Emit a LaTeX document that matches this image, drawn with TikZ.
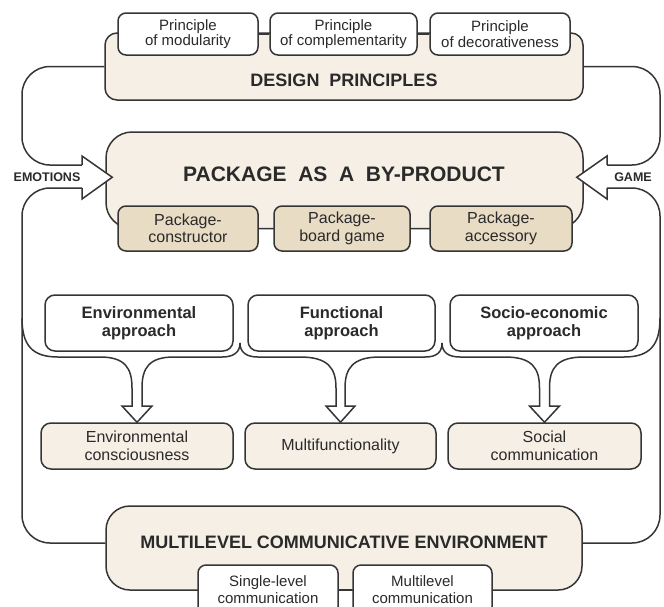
\documentclass[tikz,border=0pt]{standalone}
\usepackage{fontspec}
\setmainfont{Liberation Sans}
\usetikzlibrary{calc}

\definecolor{linea}{HTML}{353535}
\definecolor{crema}{HTML}{F6EFE6}
\definecolor{arena}{HTML}{E9DCC4}
\definecolor{texto}{HTML}{2A2A2A}

\tikzset{
    caja/.style={draw=linea, line width=1.5pt, rounded corners=8pt, align=center, inner sep=0pt, text=texto},
    chica/.style={caja, fill=white, minimum height=42pt, font=\fontsize{15}{15.5}\selectfont},
    paquete/.style={caja, fill=arena, minimum height=45pt, font=\fontsize{16}{17.5}\selectfont},
    enfoque/.style={caja, fill=white, rounded corners=10pt, minimum height=56pt, font=\bfseries\fontsize{16.5}{18}\selectfont},
    efecto/.style={caja, fill=crema, rounded corners=10pt, minimum height=46pt, font=\fontsize{16}{17.5}\selectfont},
    grande/.style={caja, fill=crema},
    titulo/.style={text=texto, font=\bfseries\fontsize{18}{20}\selectfont},
    etiqueta/.style={text=texto, font=\bfseries\fontsize{12.5}{13}\selectfont},
    union/.style={draw=linea, line width=1.5pt},
    lazo/.style={draw=linea, line width=1.5pt, rounded corners=28pt},
    flecha/.style={draw=linea, line width=1.5pt, fill=white, line join=miter},
    llave/.style={draw=linea, line width=1.5pt, line join=miter},
}

\begin{document}
\begin{tikzpicture}[x=1pt, y=-1pt]

    \useasboundingbox (0,0) rectangle (664,606);
    \clip (0,0) rectangle (664,606);
    \fill[white] (0,0) rectangle (664,606);

    % Cajas grandes
        \node[grande, minimum width=478pt, minimum height=67pt, rounded corners=12pt] (dp) at (344,66.5) {};
        \node[grande, minimum width=477pt, minimum height=96.5pt, rounded corners=26pt] (pbp) at (344.5,180.25) {};
        \node[grande, minimum width=476pt, minimum height=84pt, rounded corners=24pt] (mce) at (344,548) {};
        \coordinate (mceO) at ($(mce.west)+(0,-5)$);
        \coordinate (mceE) at ($(mce.east)+(0,-5)$);

    % Lazo izquierdo (EMOTIONS)
        \draw[lazo] (dp.west) -- (22,66.5) -- (22,165) -- (82,165);
        \draw[flecha] (82,165) -- (82,156) -- ($(pbp.west)+(7,-3)$) -- (82,199) -- (82,188);
        \draw[lazo] (82,188) -- (22,188) -- (22,543) -- (mceO);
        \node[etiqueta] (emo) at (47,177) {EMOTIONS};

    % Lazo derecho (GAME)
        \draw[lazo] (dp.east) -- (660,66.5) -- (660,165) -- (607,165);
        \draw[flecha] (607,165) -- (607,156) -- ($(pbp.east)+(-7,-3)$) -- (607,199) -- (607,188);
        \draw[lazo] (607,188) -- (660,188) -- (660,543) -- (mceE);
        \node[etiqueta] (game) at (633,177) {GAME};

    % Principios de diseno
        \node[titulo] (dpt) at (344,80) {DESIGN\ \ PRINCIPLES};
        \node[chica, minimum width=140pt] (p1) at (188,34) {Principle\\of modularity};
        \node[chica, minimum width=147pt] (p2) at (343.5,34) {Principle\\of complementarity};
        \node[chica, minimum width=140pt] (p3) at (500,34) {Principle\\of decorativeness};
        \draw[union] (p1) -- (p2) (p2) -- (p3);

    % Envase como subproducto
        \node[titulo, font=\bfseries\fontsize{21}{23}\selectfont] (pbpt) at (344,174) {PACKAGE\ \ AS\ \ A\ \ BY-PRODUCT};
        \node[paquete, minimum width=140pt] (k1) at (188,228.5) {Package-\\constructor};
        \node[paquete, minimum width=136pt] (k2) at (342,228.5) {Package-\\board game};
        \node[paquete, minimum width=142pt] (k3) at (501,228.5) {Package-\\accessory};
        \draw[union] (k1) -- (k2) (k2) -- (k3);

    % Enfoques
        \node[enfoque, minimum width=188pt] (e1) at (139,323) {Environmental\\approach};
        \node[enfoque, minimum width=187pt] (e2) at (341.5,323) {Functional\\approach};
        \node[enfoque, minimum width=188pt] (e3) at (544,323) {Socio-economic\\approach};

    % Resultados
        \node[efecto, minimum width=192pt] (oc1) at (137,446) {Environmental\\consciousness};
        \node[efecto, minimum width=191pt] (oc2) at (340.5,446) {Multifunctionality};
        \node[efecto, minimum width=193pt] (oc3) at (544.5,446) {Social\\communication};

    % Llaves
        \draw[llave] (22,318) .. controls (22,345) and (32,357) .. (58,357) -- (100,357)
            .. controls (125,357) and (132,368) .. (132,388) -- (132,406) -- (122,406) -- (oc1.north)
            -- (152,406) -- (142,406) -- (142,388) .. controls (142,368) and (149,357) .. (174,357)
            -- (222,357) .. controls (234,357) and (240,352) .. (240,343);
        \draw[llave] (240,343) .. controls (240,352) and (246,357) .. (258,357) -- (300,357)
            .. controls (328,357) and (336,368) .. (336,388) -- (336,406) -- (326,406) -- (oc2.north)
            -- (355,406) -- (345,406) -- (345,388) .. controls (345,368) and (353,357) .. (380,357)
            -- (425,357) .. controls (437,357) and (442,352) .. (442,343);
        \draw[llave] (442,343) .. controls (442,352) and (448,357) .. (460,357) -- (505,357)
            .. controls (532,357) and (539.5,368) .. (539.5,388) -- (539.5,406) -- (529.5,406) -- (oc3.north)
            -- (559.5,406) -- (549.5,406) -- (549.5,388) .. controls (549.5,368) and (557,357) .. (584,357)
            -- (624,357) .. controls (650,357) and (660,345) .. (660,318);

    % Entorno comunicativo
        \node[titulo] (mcet) at (344,542) {MULTILEVEL COMMUNICATIVE ENVIRONMENT};
        \node[chica, minimum width=140pt, minimum height=50pt, font=\fontsize{15}{17}\selectfont] (b1) at (268,590) {Single-level\\communication};
        \node[chica, minimum width=139pt, minimum height=50pt, font=\fontsize{15}{17}\selectfont] (b2) at (422.5,590) {Multilevel\\communication};
        \draw[union] (b1) -- (b2);

\end{tikzpicture}
\end{document}
